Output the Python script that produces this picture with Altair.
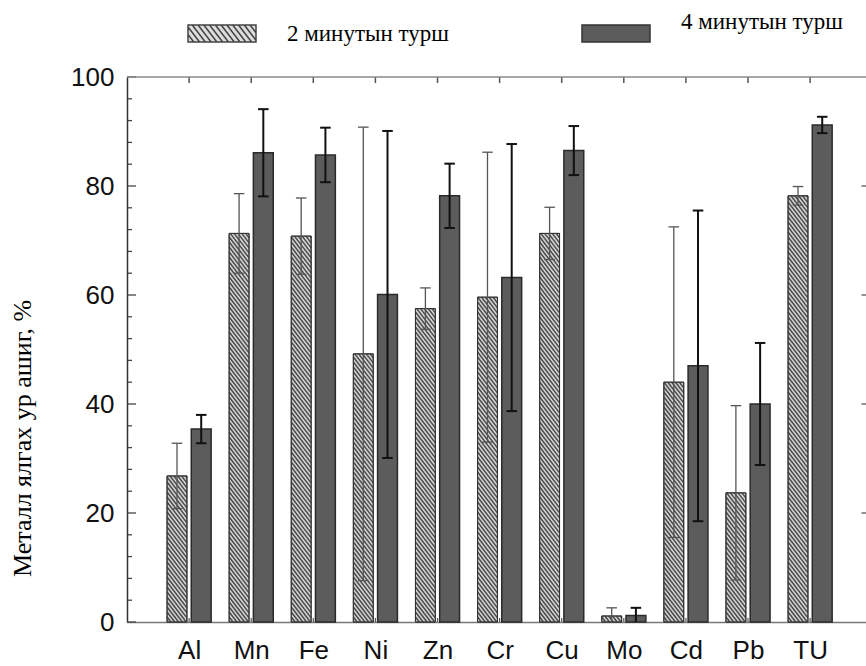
import altair as alt
import pandas as pd

# ---------------- data ----------------
elements = ["Al", "Mn", "Fe", "Ni", "Zn", "Cr", "Cu", "Mo", "Cd", "Pb", "TU"]
series_names = ["2 минутын турш", "4 минутын турш"]
two_min = [26.8, 71.3, 70.8, 49.2, 57.5, 59.6, 71.3, 1.1, 44.0, 23.7, 78.2]
two_err = [6.0, 7.3, 7.0, 41.6, 3.8, 26.6, 4.8, 1.5, 28.5, 16.0, 1.7]
four_min = [35.4, 86.1, 85.7, 60.1, 78.2, 63.2, 86.5, 1.2, 47.0, 40.0, 91.2]
four_err = [2.6, 8.0, 5.0, 30.0, 5.9, 24.5, 4.5, 1.4, 28.5, 11.2, 1.5]
y_title = "Металл ялгах ур ашиг, %"
y_major = [0, 20, 40, 60, 80, 100]
y_minor = [v for v in range(0, 101, 4)]

# ---------------- layout constants ----------------
X_MAX = 11.9
W, H = 739, 545
PX_X = W / X_MAX
PX_Y = H / 100.0
OFF = 0.195      # bar offset from group centre (x units)
HALF = 0.16      # half bar width (x units)
CAP = 0.085      # half cap width (x units)

xs = alt.Scale(domain=[0, X_MAX], nice=False, zero=False)
ys = alt.Scale(domain=[0, 100], nice=False, zero=False)

label_expr = "[''," + ",".join("'%s'" % e for e in elements) + "][datum.value]"
XAX = alt.Axis(values=list(range(1, len(elements) + 1)), labelExpr=label_expr, title=None,
               ticks=False, grid=False, labelFont="Liberation Sans", labelFontSize=26,
               labelColor="#111", labelPadding=15, domainColor="#777", domainWidth=1.5)
YAX = alt.Axis(values=y_major, title=y_title, ticks=False, grid=False,
               labelFont="Liberation Sans", labelFontSize=26, labelColor="#111",
               labelPadding=13, domainColor="#333", domainWidth=1.5,
               titleFont="Liberation Serif", titleFontSize=26, titleFontWeight="normal",
               titleColor="#000", titleX=-105, titleY=361, titleBaseline="middle",
               titleAlign="center")

def X(f):
    return alt.X(f, scale=xs, axis=XAX)

def Y(f):
    return alt.Y(f, scale=ys, axis=YAX)

# ---------------- tables built from the arrays ----------------
bars = []
for i, el in enumerate(elements):
    for s, (vals, errs, sgn) in enumerate([(two_min, two_err, -1), (four_min, four_err, 1)]):
        c = i + 1 + sgn * OFF
        v, e = vals[i], errs[i]
        bars.append(dict(el=el, s=s, xc=c, xl=c - HALF, xr=c + HALF,
                         cl=c - CAP, cr=c + CAP, base=0.0, val=v,
                         lo=max(0.0, v - e), hi=v + e, showlo=(v - e) > 0))
bdf = pd.DataFrame(bars)
hat = bdf[bdf.s == 0]
dark = bdf[bdf.s == 1]

# hatch stripes for the 2-minute bars
slope = 1.3
step = 5.0 / PX_Y
dy = (2 * HALF * PX_X) * slope / PX_Y
hrows = []
for _, r in hat.iterrows():
    y0 = 0.0
    while y0 < r.val + dy:
        ta = max(0.0, (y0 - r.val) / dy)
        tb = min(1.0, y0 / dy)
        if tb > ta:
            hrows.append(dict(x1=r.xl + (r.xr - r.xl) * ta, y1=y0 - dy * ta,
                              x2=r.xl + (r.xr - r.xl) * tb, y2=y0 - dy * tb))
        y0 += step
hdf = pd.DataFrame(hrows)

# axis tick marks (inward)
left_ticks = pd.DataFrame([dict(y=v, x=0.0, x2=(9 if v in y_major else 5) / PX_X) for v in y_minor])
right_ticks = pd.DataFrame([dict(y=v, x=X_MAX - 4.5 / PX_X, x2=X_MAX) for v in y_major[1:-1]])
top_ticks = pd.DataFrame([dict(x=i + 1, y=100, y2=100 - 6 / PX_Y) for i in range(len(elements))])
bot_ticks = pd.DataFrame([dict(x=i + 1, y=0, y2=4 / PX_Y) for i in range(len(elements))])
frame_top = pd.DataFrame([dict(x=0.0, x2=X_MAX, y=100.0)])

# ---------------- layers ----------------
base_h = alt.Chart(hat).mark_rect(fill="#d4d4d4", stroke="#3a3a3a", strokeWidth=1).encode(
    x=X("xl:Q"), x2="xr:Q", y=Y("base:Q"), y2="val:Q")

hatch = alt.Chart(hdf).mark_rule(stroke="#4a4a4a", strokeWidth=1.5).encode(
    x=X("x1:Q"), x2="x2:Q", y=Y("y1:Q"), y2="y2:Q")

outline_h = alt.Chart(hat).mark_rect(fillOpacity=0, stroke="#333", strokeWidth=1).encode(
    x=X("xl:Q"), x2="xr:Q", y=Y("base:Q"), y2="val:Q")

dark_bars = alt.Chart(dark).mark_rect(fill="#5c5c5c", stroke="#2a2a2a", strokeWidth=1.5).encode(
    x=X("xl:Q"), x2="xr:Q", y=Y("base:Q"), y2="val:Q")

def errbars(df, color, width):
    v = alt.Chart(df).mark_rule(stroke=color, strokeWidth=width).encode(
        x=X("xc:Q"), y=Y("lo:Q"), y2="hi:Q")
    top = alt.Chart(df).mark_rule(stroke=color, strokeWidth=width).encode(
        x=X("cl:Q"), x2="cr:Q", y=Y("hi:Q"))
    bot = alt.Chart(df[df.showlo]).mark_rule(stroke=color, strokeWidth=width).encode(
        x=X("cl:Q"), x2="cr:Q", y=Y("lo:Q"))
    return [v, top, bot]

err_h = errbars(hat, "#555", 1.3)
err_d = errbars(dark, "#111", 2)

def hrule(df, color, width):
    return alt.Chart(df).mark_rule(stroke=color, strokeWidth=width).encode(
        x=X("x:Q"), x2="x2:Q", y=Y("y:Q"))

def vrule(df, color, width):
    return alt.Chart(df).mark_rule(stroke=color, strokeWidth=width).encode(
        x=X("x:Q"), y=Y("y:Q"), y2="y2:Q")

ticks = [hrule(left_ticks, "#444", 1.3), hrule(right_ticks, "#555", 1.3),
         vrule(top_ticks, "#555", 1.5), vrule(bot_ticks, "#555", 1.2),
         hrule(frame_top, "#8a8a8a", 1.5)]

# ---------------- legends (custom swatches) ----------------
def fmt(v):
    return ("%.3f" % v).rstrip("0").rstrip(".")

rect_path = "M-1,-0.25H1V0.25H-1Z"
stripes = []
d = 0.5 / 1.3
x0 = -1 - d
while x0 < 1:
    ta = max(0.0, (-1 - x0) / d)
    tb = min(1.0, (1 - x0) / d)
    if tb > ta:
        stripes.append("M%s,%sL%s,%s" % (fmt(x0 + d * ta), fmt(-0.25 + 0.5 * ta),
                                           fmt(x0 + d * tb), fmt(-0.25 + 0.5 * tb)))
    x0 += 0.17
hatch_path = rect_path + "".join(stripes)

SW = 68
def legend_layer(name, path, fill, stroke, lx, baseline):
    leg = alt.Legend(orient="none", legendX=lx, legendY=-78.5, title=None,
                     symbolSize=SW * SW, symbolStrokeWidth=1.5,
                     labelFont="Liberation Serif", labelFontSize=23,
                     labelColor="#000", labelOffset=30,
                     labelBaseline=baseline, labelLimit=400, padding=0)
    return alt.Chart(pd.DataFrame({"s": pd.Series([], dtype=str)})).mark_point(
        filled=True, opacity=1).encode(
        shape=alt.Shape("s:N", scale=alt.Scale(domain=[name], range=[path]), legend=leg),
        fill=alt.Fill("s:N", scale=alt.Scale(domain=[name], range=[fill]), legend=leg),
        stroke=alt.Stroke("s:N", scale=alt.Scale(domain=[name], range=[stroke]), legend=leg))

leg1 = legend_layer(series_names[0], hatch_path, "#dcdcdc", "#444", 60, "middle")
leg2 = legend_layer(series_names[1], rect_path, "#5c5c5c", "#333", 454, "bottom")

chart = alt.layer(base_h, hatch, outline_h, dark_bars, *err_h, *err_d, *ticks, leg1, leg2).resolve_scale(
    shape="independent", fill="independent", stroke="independent"
).properties(
    width=W, height=H,
    autosize=alt.AutoSizeParams(type="none"),
    padding={"left": 127, "top": 77, "right": 0, "bottom": 44},
    background="white",
).configure_view(stroke=None)

chart.save("out.html", embed_options={"renderer": "svg", "actions": False})
